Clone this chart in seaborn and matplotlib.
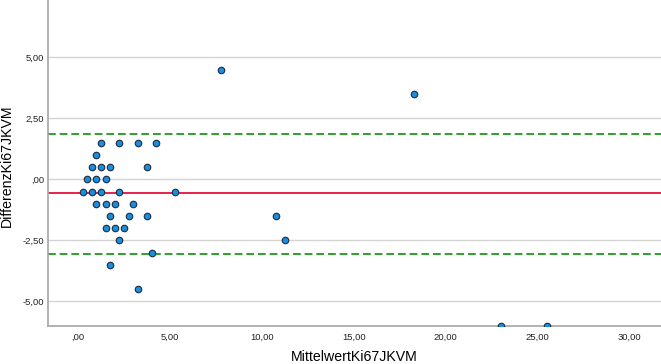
import numpy as np
import pandas as pd
import seaborn as sns
import matplotlib.pyplot as plt
from matplotlib.ticker import FixedLocator, FixedFormatter

# Bland-Altman data
mittelwert = [1.25, 2.25, 3.25, 4.25,
              1.00,
              0.75, 1.25, 1.75, 3.75,
              0.50, 1.00, 1.50,
              0.25, 0.75, 1.25, 2.25, 5.25,
              1.00, 1.50, 2.00, 3.00,
              1.75, 2.75, 3.75,
              1.50, 2.00, 2.50,
              2.25,
              4.00,
              1.75,
              3.25,
              7.75, 18.25, 10.75, 11.25, 23.00, 25.50]
differenz = [1.5, 1.5, 1.5, 1.5,
             1.0,
             0.5, 0.5, 0.5, 0.5,
             0.0, 0.0, 0.0,
             -0.5, -0.5, -0.5, -0.5, -0.5,
             -1.0, -1.0, -1.0, -1.0,
             -1.5, -1.5, -1.5,
             -2.0, -2.0, -2.0,
             -2.5,
             -3.0,
             -3.5,
             -4.5,
             4.5, 3.5, -1.5, -2.5, -6.0, -6.0]

mean_diff = -0.57
upper_loa = 1.84
lower_loa = -3.06

x_ticks = [0, 5, 10, 15, 20, 25, 30]
x_tick_labels = [",00", "5,00", "10,00", "15,00", "20,00", "25,00", "30,00"]
y_ticks = [-5, -2.5, 0, 2.5, 5]
y_tick_labels = ["-5,00", "-2,50", ",00", "2,50", "5,00"]

df = pd.DataFrame({"MittelwertKi67JKVM": mittelwert, "DifferenzKi67JKVM": differenz})

sns.set_theme(style="white")
plt.rcParams['font.family'] = ['Liberation Sans', 'DejaVu Sans']

fig = plt.figure(figsize=(6.61, 3.64), dpi=100)
ax = fig.add_axes([48 / 661, 38.3 / 364, 1 - 48 / 661, 1 - 38.3 / 364])

# SPSS-style horizontal gridlines
for yv in y_ticks:
    ax.axhline(yv, color="#d4d4d4", lw=1.0, zorder=0)

ax.axhline(upper_loa, color="#2ea02e", lw=1.4, dashes=(4, 2), zorder=1)
ax.axhline(lower_loa, color="#2ea02e", lw=1.4, dashes=(4, 2), zorder=1)
ax.axhline(mean_diff, color="#e8234f", lw=1.4, zorder=1)

sns.scatterplot(data=df, x="MittelwertKi67JKVM", y="DifferenzKi67JKVM", ax=ax,
                s=22, color="#1a8de0", edgecolor="#1c2b3a", linewidth=0.8, zorder=3)

ax.set_xlim(-1.63, 31.7)
ax.set_ylim(-6.0, 7.35)

ax.xaxis.set_major_locator(FixedLocator(x_ticks))
ax.xaxis.set_major_formatter(FixedFormatter(x_tick_labels))
ax.yaxis.set_major_locator(FixedLocator(y_ticks))
ax.yaxis.set_major_formatter(FixedFormatter(y_tick_labels))
ax.tick_params(axis="both", length=0, labelsize=6.8, colors="#222222")
ax.tick_params(axis="x", pad=5)
ax.tick_params(axis="y", pad=3)

for side in ["top", "right"]:
    ax.spines[side].set_visible(False)
for side in ["left", "bottom"]:
    ax.spines[side].set_color("#a6a6a6")
    ax.spines[side].set_linewidth(1.2)

ax.set_xlabel("MittelwertKi67JKVM", fontsize=10.2, color="#000000", labelpad=6)
ax.set_ylabel("DifferenzKi67JKVM", fontsize=10.2, color="#000000")
ax.yaxis.set_label_coords(-0.055, 0.49)

fig.savefig("out.png", dpi=100)
